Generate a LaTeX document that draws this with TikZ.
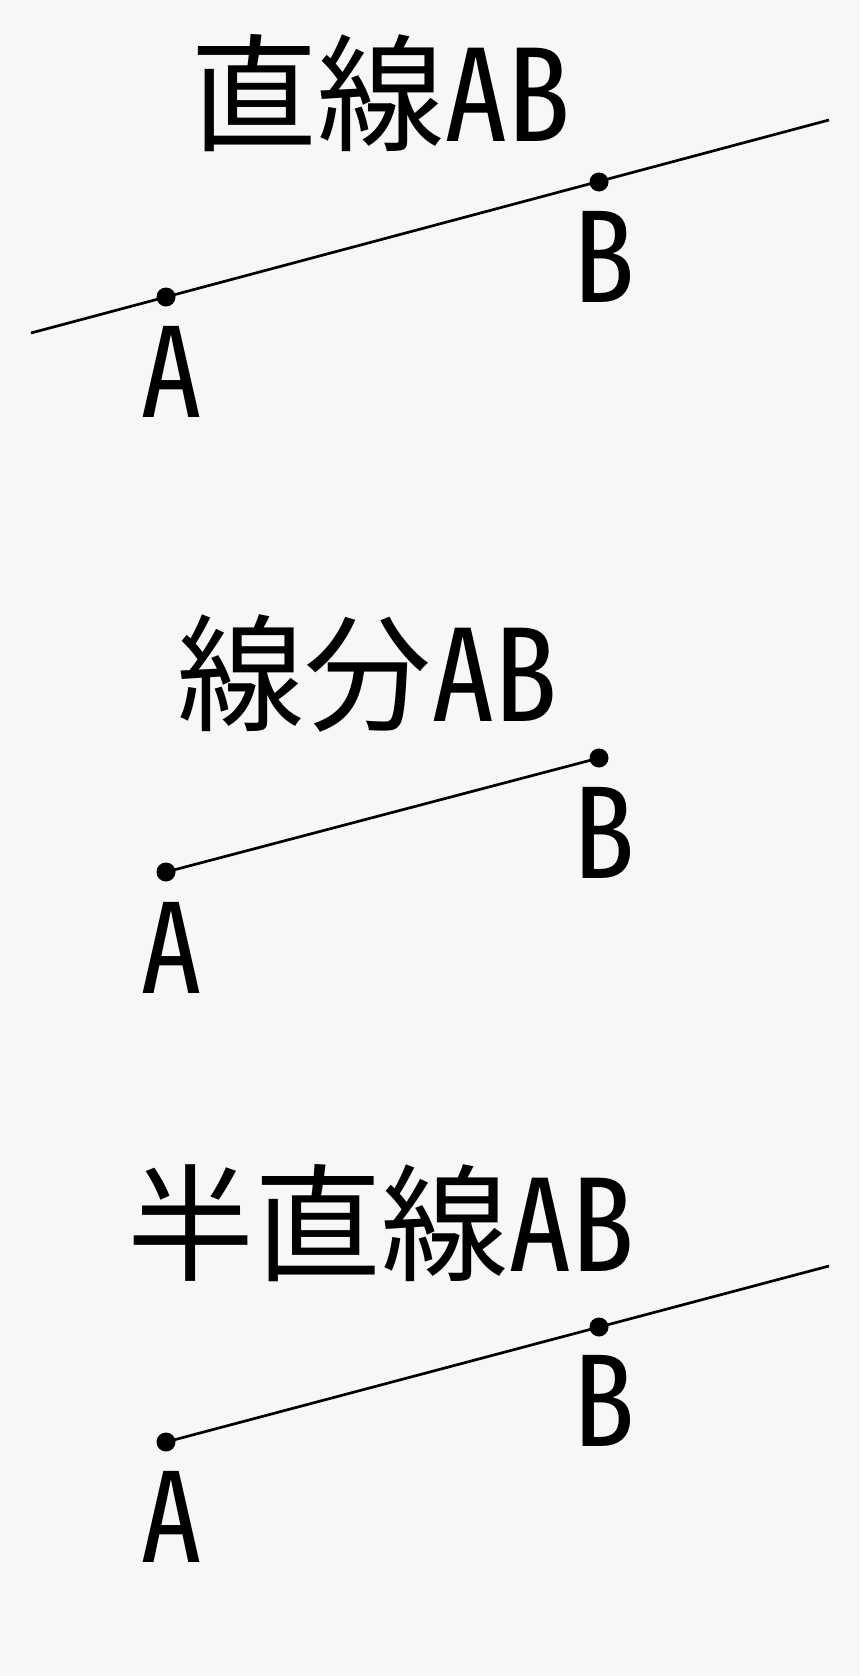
\documentclass[tikz,border=0pt]{standalone}
\usepackage{fontspec}
\setmainfont[RawFeature=+hwid]{Noto Sans CJK JP}
\definecolor{bg}{RGB}{247,247,247}
\tikzset{
  dot/.style={circle,fill=black,inner sep=0pt,minimum size=19bp},
  seg/.style={line width=2.7bp,black},
  title/.style={anchor=base west,inner sep=0pt,font=\fontsize{127bp}{140bp}\selectfont},
  lab/.style={anchor=base,inner sep=0pt,font=\fontsize{124bp}{140bp}\selectfont}
}
\begin{document}
\begin{tikzpicture}[x=1bp,y=-1bp]
\fill[bg] (0,0) rectangle (860,1676);
\useasboundingbox (0,0) rectangle (860,1676);
% --- line AB
\node[title] (t1) at (190,141) {直線AB};
\coordinate (L1) at (31,333);
\coordinate (R1) at (829,120);
\draw[seg] (L1) -- (R1);
\node[dot] (A1) at (166,297) {};
\node[dot] (B1) at (599,182) {};
\node[lab] (a1) at (171,417) {A};
\node[lab] (b1) at (604,302) {B};
% --- segment AB
\node[title] (t2) at (177,721) {線分AB};
\node[dot] (A2) at (166,872) {};
\node[dot] (B2) at (599,758) {};
\draw[seg] (A2.center) -- (B2.center);
\node[lab] (a2) at (171,993) {A};
\node[lab] (b2) at (604,878) {B};
% --- ray AB
\node[title] (t3) at (127,1271) {半直線AB};
\coordinate (R3) at (829,1266);
\node[dot] (A3) at (166,1442) {};
\node[dot] (B3) at (599,1327) {};
\draw[seg] (A3.center) -- (R3);
\node[lab] (a3) at (171,1562) {A};
\node[lab] (b3) at (604,1446) {B};
\end{tikzpicture}
\end{document}
